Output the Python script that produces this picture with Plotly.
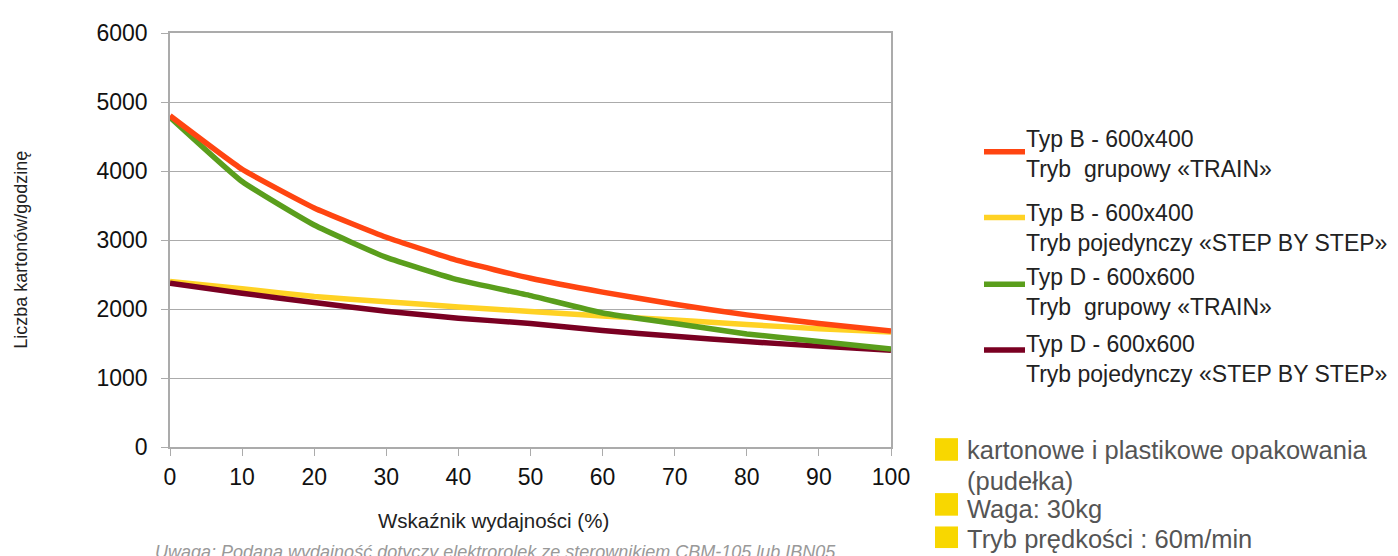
import plotly.graph_objects as go

x_vals = [0, 10, 20, 30, 40, 50, 60, 70, 80, 90, 100]
typ_b_train = [4800, 4025, 3465, 3040, 2700, 2445, 2245, 2068, 1915, 1790, 1680]
typ_b_step = [2400, 2295, 2180, 2105, 2030, 1965, 1900, 1840, 1775, 1715, 1665]
typ_d_train = [4780, 3848, 3217, 2748, 2421, 2194, 1942, 1790, 1639, 1528, 1420]
typ_d_step = [2375, 2229, 2093, 1967, 1866, 1790, 1689, 1604, 1528, 1462, 1402]

series_names = [
    "Typ B - 600x400<br>Tryb  grupowy «TRAIN»",
    "Typ B - 600x400<br>Tryb pojedynczy «STEP BY STEP»",
    "Typ D - 600x600<br>Tryb  grupowy «TRAIN»",
    "Typ D - 600x600<br>Tryb pojedynczy «STEP BY STEP»",
]
series_values = [typ_b_train, typ_b_step, typ_d_train, typ_d_step]
series_colors = ["#FF4511", "#FFD224", "#5A9E1C", "#7A0022"]
draw_order = [1, 3, 2, 0]

info_lines = [
    "kartonowe i plastikowe opakowania",
    "(pudełka)",
    "Waga: 30kg",
    "Tryb prędkości : 60m/min",
]
note_text = "Uwaga: Podana wydajność dotyczy elektrorolek ze sterownikiem CBM-105 lub IBN05"
x_title = "Wskaźnik wydajności (%)"
y_title = "Liczba kartonów/godzinę"

x_ticks = list(range(0, 101, 10))
y_ticks = list(range(0, 6001, 1000))

# screen-pixel helpers (plot area spans x 170..891, y 25..447 on screen)
PL, PR, PT, PB = 170, 891, 25, 447
def px(X):
    return (X - PL) / (PR - PL)
def py(Y):
    return 1 - (Y - PT) / (PB - PT)

fig = go.Figure()
for i in draw_order:
    fig.add_trace(go.Scatter(
        x=x_vals, y=series_values[i], mode="lines", name=series_names[i],
        line=dict(color=series_colors[i], width=5.5, shape="spline", smoothing=0.4),
        showlegend=False,
    ))

font_main = "Liberation Sans, Arial, sans-serif"
axis_gray = "#ABABAB"

# page body has 8px margin -> figure sits at (8,8)
fig.update_layout(
    width=1390, height=548,
    margin=dict(l=PL - 8, r=1390 - (PR - 8), t=PT - 8, b=548 - (PB - 8)),
    paper_bgcolor="white", plot_bgcolor="white",
    font=dict(family=font_main, color="#111"),
    xaxis=dict(range=[0, 100], tickvals=x_ticks, showgrid=False, showline=True, mirror=True,
               linecolor=axis_gray, linewidth=1.5, ticks="outside", ticklen=7, tickcolor=axis_gray,
               tickfont=dict(size=23, color="#111"), zeroline=False, ticklabelstandoff=2),
    yaxis=dict(range=[0, 6000], tickvals=y_ticks, showgrid=True, gridcolor=axis_gray, gridwidth=1.2,
               showline=True, mirror=True, linecolor=axis_gray, linewidth=1.5,
               ticks="outside", ticklen=7, tickcolor=axis_gray, zeroline=False,
               tickfont=dict(size=23, color="#111"), ticklabelstandoff=9),
)

# axis titles
fig.add_annotation(xref="paper", yref="paper", x=px(493), y=py(522), text=x_title,
                   showarrow=False, xanchor="center", yanchor="middle",
                   font=dict(size=20.5, color="#222", family=font_main))
fig.add_annotation(xref="paper", yref="paper", x=px(21), y=py(246), text=y_title,
                   showarrow=False, xanchor="center", yanchor="middle", textangle=-90,
                   font=dict(size=18, color="#222", family=font_main))

# custom legend
swatch_y = [146, 213, 281, 348]
first_line_y = [134, 209.5, 275, 342.5]
for k in range(4):
    fig.add_shape(type="line", xref="paper", yref="paper",
                  x0=px(984), x1=px(1025), y0=py(swatch_y[k]), y1=py(swatch_y[k]),
                  line=dict(color=series_colors[k], width=5.5))
    fig.add_annotation(xref="paper", yref="paper", x=px(1024),
                       y=py(first_line_y[k] + 14.5),
                       text=series_names[k], showarrow=False, xanchor="left", yanchor="middle",
                       align="left", font=dict(size=23, color="#222", family=font_main))

# info block
info_y = [449, 481, 509, 540]
square_y = [(438, 461), None, (494, 517), (528, 550)]
for j, txt in enumerate(info_lines):
    if square_y[j] is not None:
        y0, y1 = square_y[j]
        fig.add_shape(type="rect", xref="paper", yref="paper",
                      x0=px(935), x1=px(958), y0=py(y1), y1=py(y0),
                      fillcolor="#F8D700", line=dict(width=0))
    fig.add_annotation(xref="paper", yref="paper", x=px(965), y=py(info_y[j] + 1),
                       text=txt, showarrow=False, xanchor="left", yanchor="middle", align="left",
                       font=dict(size=25.5, color="#555", family=font_main))

fig.add_annotation(xref="paper", yref="paper", x=px(495), y=py(542), text="<i>" + note_text + "</i>",
                   showarrow=False, xanchor="center", yanchor="top",
                   font=dict(size=18, color="#999", family=font_main))

fig.write_html("out.html")
